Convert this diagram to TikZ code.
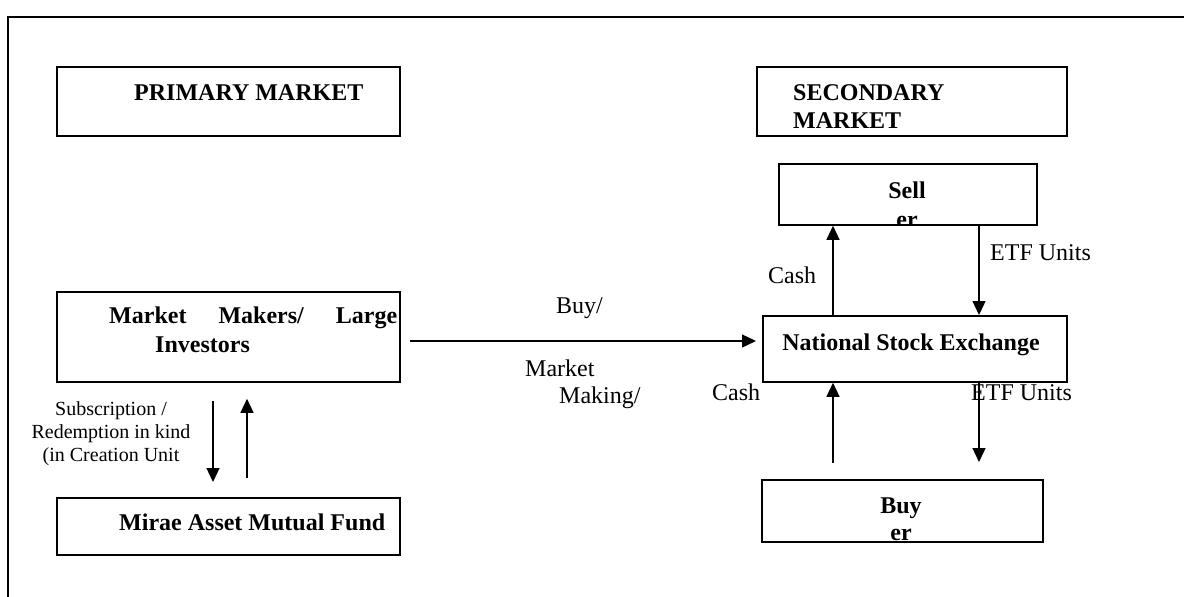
\documentclass[tikz,border=0pt]{standalone}
\usepackage{fontspec}
\setmainfont{Liberation Serif}
\usetikzlibrary{arrows.meta}

\begin{document}
\begin{tikzpicture}[x=1pt,y=-1pt,
    box/.style={draw,line width=1.8pt,inner sep=0pt,anchor=north west},
    txt/.style={inner sep=0pt,anchor=base west,font=\fontsize{24}{29}\selectfont},
    btxt/.style={inner sep=0pt,anchor=base west,font=\fontsize{24}{29}\selectfont\bfseries},
    stxt/.style={inner sep=0pt,anchor=base,font=\fontsize{20}{23}\selectfont},
    flow/.style={-{Triangle[length=14pt,width=13pt]},line width=1.3pt}]
    \useasboundingbox (0,0) rectangle (1184,597);

    % Frame
    \draw[line width=2.5pt] (8,600) -- (8,17) -- (1190,17);

    % Boxes
    \node[box,minimum width=343pt,minimum height=69pt] (prim) at (56,66) {};
    \node[box,minimum width=310pt,minimum height=69pt] (sec) at (756,66) {};
    \node[box,minimum width=258pt,minimum height=61pt] (sell) at (778,163) {};
    \node[box,minimum width=343pt,minimum height=90pt] (mm) at (56,291) {};
    \node[box,minimum width=304pt,minimum height=66pt] (nse) at (762,315) {};
    \node[box,minimum width=343pt,minimum height=57pt] (mirae) at (56,497) {};
    \node[box,minimum width=281pt,minimum height=62pt] (buy) at (761,479) {};

    % Box texts
    \node[btxt] (primT) at (134,100) {PRIMARY MARKET};
    \node[btxt] (secT1) at (793,100) {SECONDARY};
    \node[btxt] (secT2) at (793,128) {MARKET};
    \node[btxt,anchor=base] (sellT1) at (907,198) {Sell};
    \node[btxt] (mmT1) at (109,323) {\makebox[288pt][s]{Market Makers/ Large}};
    \node[btxt] (mmT2) at (155,352) {Investors};
    \node[btxt,anchor=base] (nseT) at (911,350) {National Stock Exchange};
    \node[btxt] (miraeT) at (119,530) {Mirae Asset Mutual Fund};
    \node[btxt,anchor=base] (buyT1) at (901,513) {Buy};
    \begin{scope}
        \clip (sell.south west) rectangle (sell.north east);
        \node[btxt,anchor=base] (sellT2) at (907,227) {er};
    \end{scope}
    \begin{scope}
        \clip (buy.south west) rectangle (buy.north east);
        \node[btxt,anchor=base] (buyT2) at (901,540) {er};
    \end{scope}

    % Labels
    \node[txt] (cashU) at (768,283) {Cash};
    \node[txt] (etfU) at (990,260) {ETF Units};
    \node[txt] (cashL) at (712,400) {Cash};
    \node[txt] (etfL) at (971,400) {ETF Units};
    \node[txt] (buyL) at (556,313) {Buy/};
    \node[txt] (mktL) at (525,376) {Market};
    \node[txt] (makL) at (559,403) {Making/};
    \node[stxt] (sub1) at (111,415) {Subscription /};
    \node[stxt] (sub2) at (111,438) {Redemption in kind};
    \node[stxt] (sub3) at (111,461) {(in Creation Unit};

    % Arrows
    \coordinate (cashx) at (833,0);
    \coordinate (etfx) at (979,0);
    \coordinate (subx) at (213,0);
    \coordinate (redx) at (247,0);
    \coordinate (tradey) at (0,341);
    \draw[flow] (nse.north -| cashx) -- (sell.south -| cashx);
    \draw[flow] (sell.south -| etfx) -- (nse.north -| etfx);
    \draw[flow,shorten <=16pt] (buy.north -| cashx) -- (nse.south -| cashx);
    \draw[flow,shorten >=17pt] (nse.south -| etfx) -- (buy.north -| etfx);
    \draw[flow,shorten <=18pt,shorten >=15pt] (mm.south -| subx) -- (mirae.north -| subx);
    \draw[flow,shorten <=19pt,shorten >=16pt] (mirae.north -| redx) -- (mm.south -| redx);
    \draw[flow,shorten <=9pt,shorten >=6pt] (mm.east |- tradey) -- (nse.west |- tradey);
\end{tikzpicture}
\end{document}
